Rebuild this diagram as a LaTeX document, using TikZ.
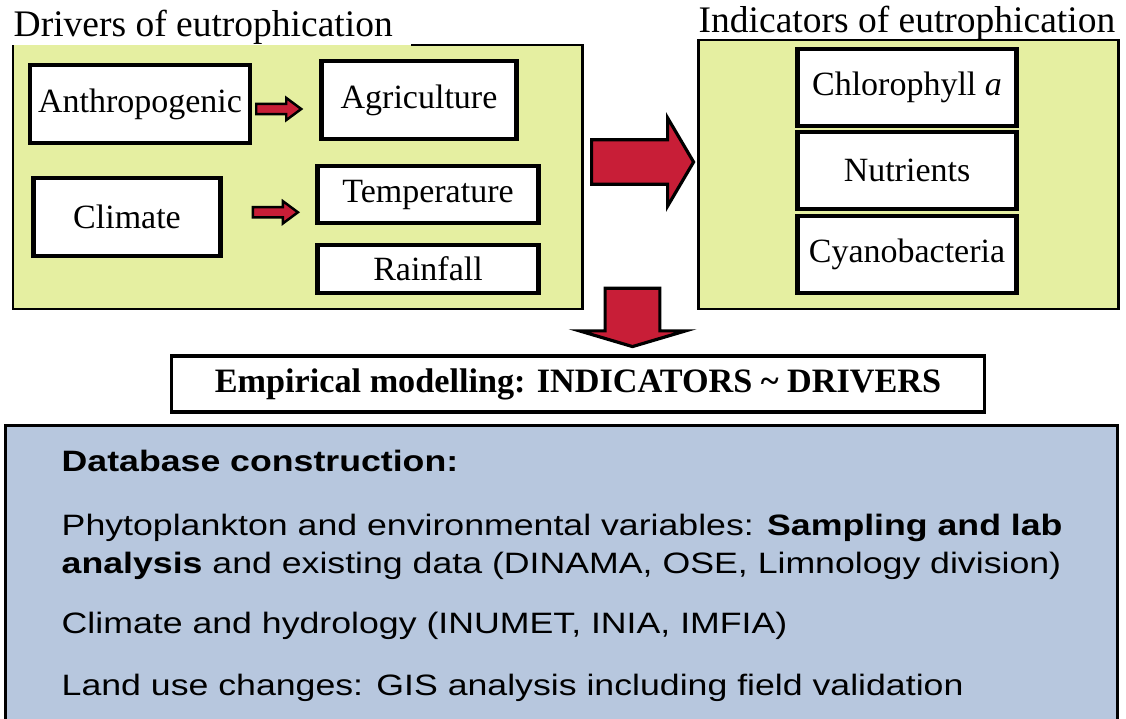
\documentclass[tikz,border=0pt]{standalone}
\usepackage{fontspec}
\setmainfont{Liberation Serif}
\newfontfamily\dbfont[FakeStretch=1.21]{Liberation Sans}
\usepackage{tikz}
\usetikzlibrary{shapes.arrows}

\definecolor{driverbg}{RGB}{229,239,161}
\definecolor{databg}{RGB}{183,199,222}
\definecolor{arrowred}{RGB}{200,30,55}

\begin{document}
\begin{tikzpicture}[
  every node/.style={inner sep=0pt},
  item/.style={draw, line width=1.3pt, fill=white, font=\fontsize{9.67}{11}\selectfont},
  heading/.style={font=\fontsize{10.67}{12}\selectfont, anchor=base west},
  flow/.style={single arrow, draw, fill=arrowred, anchor=tail, inner xsep=0pt},
  dbline/.style={font=\dbfont\fontsize{8.39}{10}\selectfont, anchor=base west}
]
\useasboundingbox (0,0) rectangle (11.26,7.18);

% drivers
\fill[driverbg] (0.13,4.09) rectangle (5.825,6.73);
\draw[line width=0.85pt] (4.11,6.73) -- (5.825,6.73) -- (5.825,4.09) -- (0.13,4.09) -- (0.13,6.73);
\node[heading] (drv) at (0.13,6.81) {Drivers of eutrophication};
\node[item, minimum width=2.2cm, minimum height=0.78cm] (anthro) at (1.40,6.14) {Anthropogenic};
\node[item, minimum width=1.955cm, minimum height=0.78cm] (agri) at (4.19,6.18) {Agriculture};
\node[item, minimum width=1.87cm, minimum height=0.78cm] (clim) at (1.27,5.01) {Climate};
\node[item, minimum width=2.21cm, minimum height=0.57cm] (temp) at (4.28,5.235) {Temperature};
\node[item, minimum width=2.21cm, minimum height=0.48cm] (rain) at (4.28,4.49) {Rainfall};
\node[flow, line width=0.7pt, inner ysep=0.0385cm, minimum height=0.45cm, minimum width=0.197cm,
  single arrow head extend=0.06cm, single arrow tip angle=73] (toagri) at (2.55,6.09) {};
\node[flow, line width=0.7pt, inner ysep=0.0385cm, minimum height=0.45cm, minimum width=0.197cm,
  single arrow head extend=0.06cm, single arrow tip angle=73] (totemp) at (2.517,5.057) {};

% indicators
\draw[fill=driverbg, line width=0.85pt] (6.98,4.09) rectangle (11.18,6.78);
\node[heading] (ind) at (6.98,6.85) {Indicators of eutrophication};
\node[item, minimum width=2.19cm, minimum height=0.77cm] (chl) at (9.07,6.305) {Chlorophyll \textit{a}};
\node[item, minimum width=2.19cm, minimum height=0.77cm] (nut) at (9.07,5.475) {Nutrients};
\node[item, minimum width=2.19cm, minimum height=0.77cm] (cyano) at (9.07,4.635) {Cyanobacteria};

% big arrows
\node[flow, line width=0.9pt, inner ysep=0.2065cm, minimum height=1.02cm, minimum width=0.85cm,
  single arrow head extend=0.2185cm, single arrow tip angle=119] (toind) at (5.90,5.56) {};
\node[flow, line width=0.9pt, rotate=-90, inner ysep=0.258cm, minimum height=0.583cm, minimum width=1.03cm,
  single arrow head extend=0.257cm, single arrow tip angle=147] (tomodel) at (6.325,4.313) {};

% model
\node[draw, line width=0.95pt, fill=white, minimum width=8.13cm, minimum height=0.56cm,
  font=\bfseries\fontsize{9.73}{11}\selectfont] (model) at (5.78,3.34)
  {Empirical modelling: INDICATORS \textasciitilde{} DRIVERS};

% database
\draw[fill=databg, line width=0.85pt] (0.057,-0.1) rectangle (11.17,2.93);
\node[dbline] (db0) at (0.61,2.463) {\bfseries Database construction:};
\node[dbline] (db1) at (0.61,1.83) {Phytoplankton and environmental variables: \textbf{Sampling and lab}};
\node[dbline] (db2) at (0.61,1.45) {\textbf{analysis} and existing data (DINAMA, OSE, Limnology division)};
\node[dbline] (db3) at (0.61,0.85) {Climate and hydrology (INUMET, INIA, IMFIA)};
\node[dbline] (db4) at (0.61,0.23) {Land use changes: GIS analysis including field validation};
\end{tikzpicture}
\end{document}
